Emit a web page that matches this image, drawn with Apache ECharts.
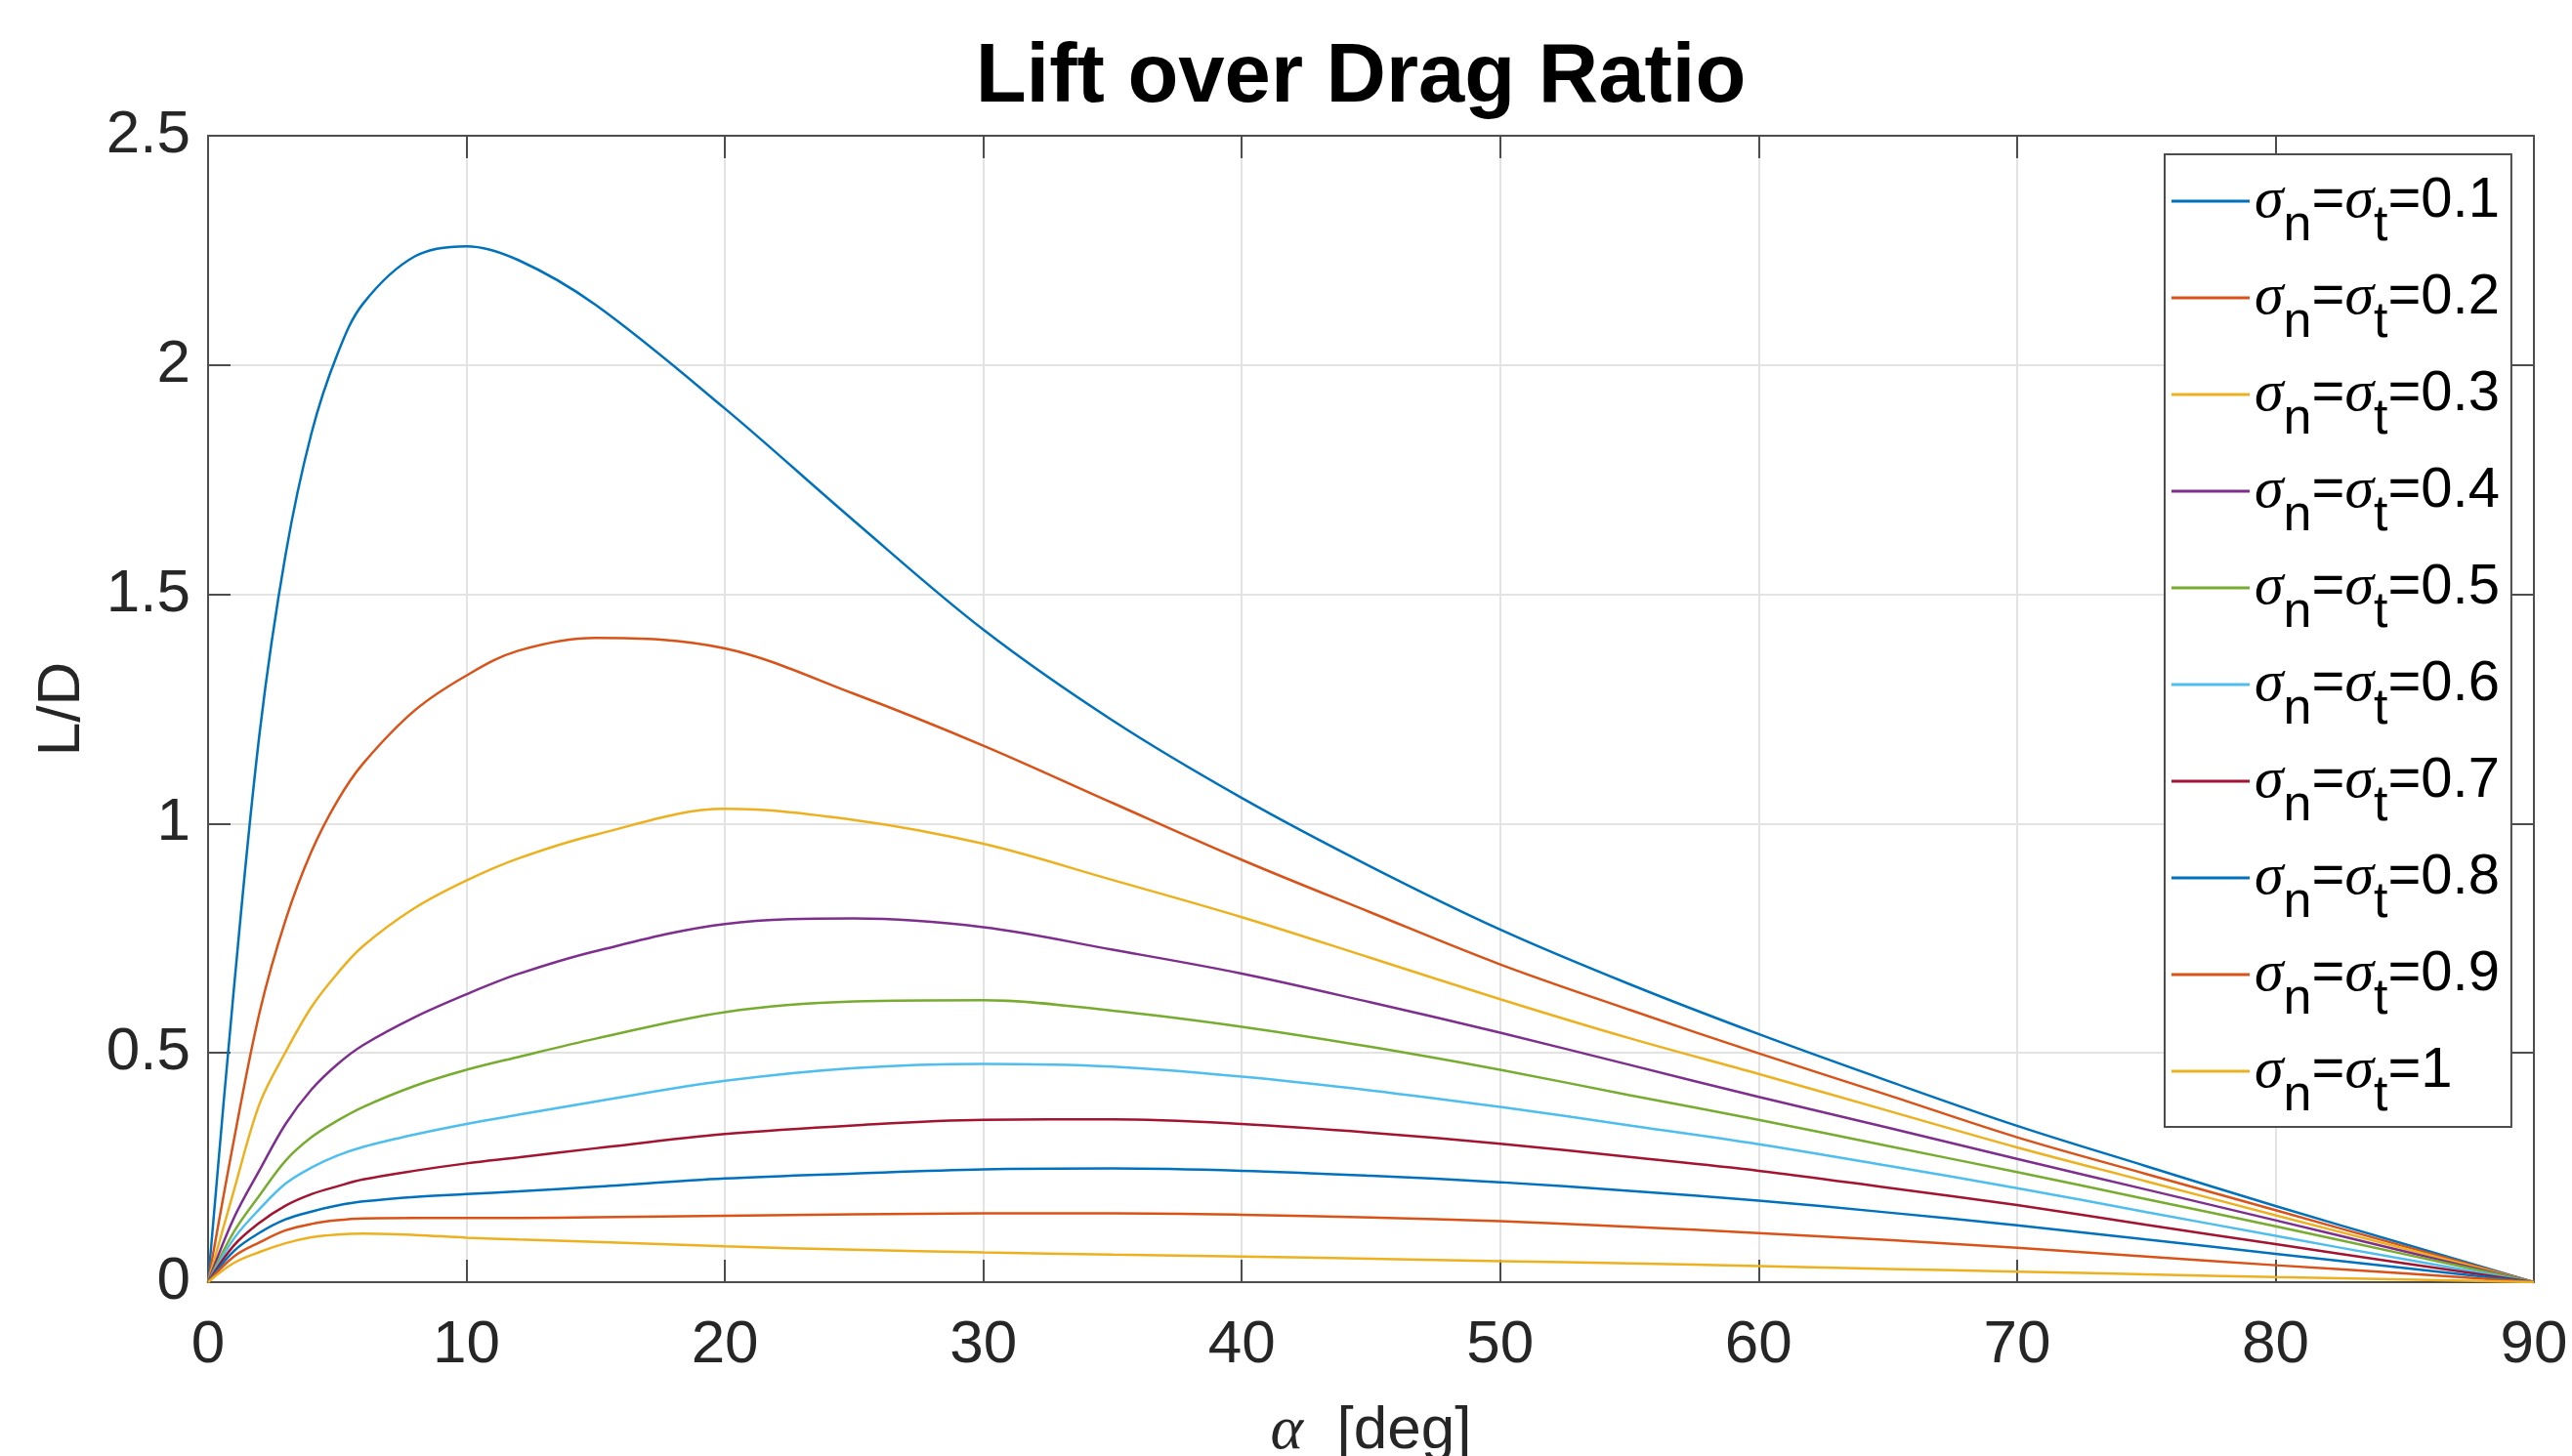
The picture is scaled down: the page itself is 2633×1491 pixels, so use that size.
<!DOCTYPE html>
<html>
<head>
<meta charset="utf-8">
<script src="https://cdn.jsdelivr.net/npm/echarts@6/dist/echarts.min.js"></script>
<style>
  html, body { margin: 0; padding: 0; background: #fff; }
  #chart { width: 2633px; height: 1491px; }
</style>
</head>
<body>
<div id="chart"></div>
<script>
// angle of attack [deg]
var alpha = [0, 1, 2, 3, 4, 5, 6, 8, 10, 12, 15, 20, 25, 30, 35, 40, 45, 50, 55, 60, 65, 70, 75, 80, 85, 90]

// accommodation coefficients (legend)
var sigmaLabels = ['0.1', '0.2', '0.3', '0.4', '0.5', '0.6', '0.7', '0.8', '0.9', '1']

// L/D, one array per curve
var ld01 = [0, 0.64, 1.20, 1.587, 1.851, 2.023, 2.134, 2.237, 2.259, 2.229, 2.131, 1.905, 1.66, 1.423, 1.225, 1.056, 0.906, 0.769, 0.65, 0.541, 0.439, 0.341, 0.253, 0.166, 0.083, 0]
var ld02 = [0, 0.31, 0.59, 0.79, 0.939, 1.049, 1.131, 1.247, 1.323, 1.377, 1.405, 1.382, 1.283, 1.17, 1.045, 0.921, 0.806, 0.693, 0.594, 0.499, 0.408, 0.316, 0.236, 0.157, 0.078, 0]
var ld03 = [0, 0.20, 0.39, 0.502, 0.600, 0.673, 0.733, 0.816, 0.876, 0.924, 0.976, 1.032, 1.008, 0.956, 0.877, 0.796, 0.707, 0.617, 0.532, 0.454, 0.374, 0.294, 0.220, 0.146, 0.073, 0]
var ld04 = [0, 0.14, 0.245, 0.345, 0.42, 0.475, 0.517, 0.578, 0.628, 0.672, 0.722, 0.781, 0.793, 0.774, 0.725, 0.673, 0.610, 0.544, 0.474, 0.404, 0.337, 0.269, 0.202, 0.135, 0.067, 0]
var ld05 = [0, 0.11, 0.19, 0.265, 0.316, 0.352, 0.382, 0.428, 0.463, 0.491, 0.531, 0.589, 0.612, 0.615, 0.592, 0.557, 0.513, 0.463, 0.408, 0.354, 0.297, 0.240, 0.181, 0.122, 0.061, 0]
var ld06 = [0, 0.095, 0.16, 0.215, 0.25, 0.276, 0.295, 0.322, 0.345, 0.365, 0.394, 0.439, 0.467, 0.476, 0.470, 0.448, 0.418, 0.382, 0.342, 0.301, 0.254, 0.205, 0.153, 0.101, 0.050, 0]
var ld07 = [0, 0.08, 0.13, 0.167, 0.192, 0.209, 0.224, 0.243, 0.259, 0.272, 0.292, 0.323, 0.342, 0.354, 0.355, 0.345, 0.326, 0.302, 0.273, 0.243, 0.206, 0.168, 0.125, 0.083, 0.041, 0]
var ld08 = [0, 0.068, 0.108, 0.137, 0.154, 0.167, 0.176, 0.186, 0.192, 0.198, 0.208, 0.226, 0.237, 0.246, 0.248, 0.243, 0.232, 0.218, 0.199, 0.178, 0.152, 0.124, 0.093, 0.062, 0.031, 0]
var ld09 = [0, 0.056, 0.087, 0.113, 0.127, 0.135, 0.139, 0.140, 0.140, 0.140, 0.1415, 0.145, 0.148, 0.150, 0.150, 0.147, 0.141, 0.133, 0.121, 0.107, 0.092, 0.075, 0.056, 0.037, 0.019, 0]
var ld10 = [0, 0.042, 0.066, 0.085, 0.098, 0.104, 0.106, 0.103, 0.097, 0.093, 0.088, 0.078, 0.071, 0.065, 0.060, 0.056, 0.051, 0.046, 0.041, 0.035, 0.029, 0.023, 0.017, 0.011, 0.006, 0]

var allCurves = [ld01, ld02, ld03, ld04, ld05, ld06, ld07, ld08, ld09, ld10]

// matlab default line colors
var colors = ['#0072BD', '#D95319', '#EDB120', '#7E2F8E', '#77AC30', '#4DBEEE', '#A2142F', '#0072BD', '#D95319', '#EDB120']

var axisColor = '#4d4d4d'
var labelColor = '#262626'
var font = 'Liberation Sans, Arial, Helvetica, sans-serif'
var serif = 'Liberation Serif, Times New Roman, serif'

var chart = echarts.init(document.getElementById('chart'))

var series = allCurves.map(function (vals, i) {
  return {
    name: 'σn=σt=' + sigmaLabels[i],
    type: 'line',
    xAxisIndex: 0,
    yAxisIndex: 0,
    data: alpha.map(function (a, k) { return [a, vals[k]] }),
    showSymbol: false,
    symbol: 'none',
    smooth: 0.35,
    lineStyle: { width: 2.5, color: colors[i] },
    itemStyle: { color: colors[i] },
    z: 3
  }
})

// 上/右边框轴 (matlab box on)
function boxAxis(base, pos) {
  return Object.assign({}, base, {
    position: pos,
    axisLabel: { show: false },
    splitLine: { show: false },
    name: ''
  })
}

var xBase = {
  type: 'value',
  min: 0,
  max: 90,
  interval: 10,
  axisLine: { show: true, onZero: false, lineStyle: { color: axisColor, width: 2 } },
  axisTick: { show: true, inside: true, length: 23, lineStyle: { color: axisColor, width: 2 } },
  axisLabel: {
    show: true,
    margin: 34,
    fontSize: 62,
    color: labelColor,
    fontFamily: font,
    showMinLabel: true,
    showMaxLabel: true
  },
  splitLine: { show: true, lineStyle: { color: '#e3e3e3', width: 2 } }
}

var yBase = {
  type: 'value',
  min: 0,
  max: 2.5,
  interval: 0.5,
  axisLine: { show: true, onZero: false, lineStyle: { color: axisColor, width: 2 } },
  axisTick: { show: true, inside: true, length: 23, lineStyle: { color: axisColor, width: 2 } },
  axisLabel: {
    show: true,
    margin: 18,
    fontSize: 62,
    color: labelColor,
    fontFamily: font,
    showMinLabel: true,
    showMaxLabel: true
  },
  splitLine: { show: true, lineStyle: { color: '#e3e3e3', width: 2 } }
}

var option = {
  animation: false,
  backgroundColor: '#ffffff',
  title: {
    text: 'Lift over Drag Ratio',
    left: 1393,
    top: 38,
    padding: 0,
    textAlign: 'center',
    textStyle: { fontSize: 85, fontWeight: 'bold', color: '#000', fontFamily: font }
  },
  // 不让 v6 为了标签自动缩小绘图区
  grid: { left: 213, right: 39, top: 139, bottom: 178, containLabel: false, outerBoundsMode: 'none' },
  legend: {
    orient: 'vertical',
    left: 2216,
    top: 158,
    padding: [17, 12, 5, 7],
    itemGap: 16,
    itemWidth: 80,
    itemHeight: 3,
    icon: 'rect',
    selectedMode: false,
    backgroundColor: '#ffffff',
    borderColor: axisColor,
    borderWidth: 2,
    borderRadius: 0,
    formatter: function (name) {
      var v = name.split('=').pop()
      return '{s|σ}{sub|n}{m|=}{s|σ}{sub|t}{m|=' + v + '}'
    },
    textStyle: {
      color: '#000',
      rich: {
        s: { fontFamily: serif, fontStyle: 'italic', fontSize: 60, height: 62, lineHeight: 62, color: '#000' },
        m: { fontFamily: font, fontSize: 58, height: 62, lineHeight: 62, color: '#000' },
        sub: { fontFamily: font, fontSize: 52, height: 10, lineHeight: 62, padding: [52, 0, 0, 0], color: '#000' }
      }
    },
    data: series.map(function (s) { return s.name })
  },
  xAxis: [
    Object.assign({}, xBase, {
      position: 'bottom',
      name: '{a|α}  [deg]',
      nameLocation: 'middle',
      nameGap: 121,
      nameTextStyle: {
        fontSize: 62,
        color: labelColor,
        fontFamily: font,
        rich: {
          a: { fontFamily: serif, fontStyle: 'italic', fontSize: 64, color: labelColor }
        }
      }
    }),
    boxAxis(xBase, 'top')
  ],
  yAxis: [
    Object.assign({}, yBase, {
      position: 'left',
      name: 'L/D',
      nameLocation: 'middle',
      nameGap: 118,
      nameTextStyle: { fontSize: 62, color: labelColor, fontFamily: font }
    }),
    boxAxis(yBase, 'right')
  ],
  series: series
}

chart.setOption(option)
</script>
</body>
</html>
